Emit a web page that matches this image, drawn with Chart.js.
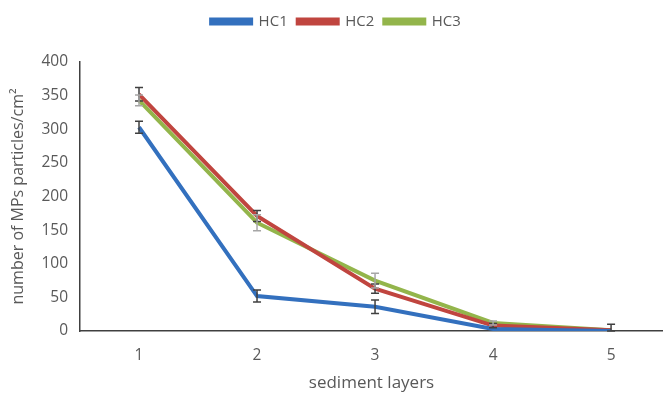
<!DOCTYPE html>
<html><head><meta charset="utf-8">
<script src="https://cdn.jsdelivr.net/npm/chart.js@4/dist/chart.umd.min.js"></script>
<style>html,body{margin:0;padding:0;background:#fff}#wrap{width:663px;height:393px}</style>
</head><body><div id="wrap"><canvas id="c"></canvas></div>
<script>
const layers = [1, 2, 3, 4, 5];
const hc1 = [303, 52, 36, 3, 0];
const hc2 = [352, 171, 63, 8, 1];
const hc3 = [343, 161, 75, 12, 1];
const hc1Err = [9, 9, 10, 0, 0];
const hc2Err = [10, 8, 7, 3, 9];
const hc3Err = [8, 12, 11, 3, 0];
const yTicks = [0, 50, 100, 150, 200, 250, 300, 350, 400];

const series = [
  {label: 'HC1', vals: hc1, err: hc1Err, color: '#3370BE', errColor: '#404040'},
  {label: 'HC2', vals: hc2, err: hc2Err, color: '#C0453F', errColor: '#404040'},
  {label: 'HC3', vals: hc3, err: hc3Err, color: '#93B54B', errColor: '#A6A6A6'}
];

const errorBars = {
  id: 'errorBars',
  afterDatasetsDraw(chart) {
    const {ctx, scales: {x, y}} = chart;
    ctx.save();
    chart.data.datasets.forEach((ds, di) => {
      const s = series[di];
      ctx.strokeStyle = s.errColor;
      ctx.lineWidth = 1.5;
      ds.data.forEach((p, i) => {
        const e = s.err[i];
        if (!e) return;
        const px = x.getPixelForValue(p.x);
        const top = y.getPixelForValue(p.y + e);
        const bot = y.getPixelForValue(Math.max(0, p.y - e));
        ctx.beginPath();
        ctx.moveTo(px, top); ctx.lineTo(px, bot);
        ctx.moveTo(px - 4, top); ctx.lineTo(px + 4, top);
        ctx.moveTo(px - 4, bot); ctx.lineTo(px + 4, bot);
        ctx.stroke();
      });
    });
    ctx.restore();
  }
};

const legendSpace = {
  id: 'legendSpace',
  beforeInit(chart) {
    const orig = chart.legend.fit;
    chart.legend.fit = function () { orig.bind(chart.legend)(); this.height += 23; };
  }
};

new Chart(document.getElementById('c'), {
  type: 'line',
  data: {
    datasets: series.map(s => ({
      label: s.label,
      data: s.vals.map((v, i) => ({x: layers[i], y: v})),
      borderColor: s.color,
      backgroundColor: s.color,
      borderWidth: 4,
      pointRadius: 0,
      tension: 0
    }))
  },
  options: {
    responsive: true,
    maintainAspectRatio: false,
    animation: false,
    layout: {padding: {left: 9, right: 0, top: 4, bottom: 0}},
    plugins: {
      legend: {
        position: 'top',
        labels: {
          boxWidth: 40, boxHeight: 4, padding: 10,
          color: '#595959',
          font: {family: 'Open Sans', size: 15}
        }
      },
      tooltip: {enabled: false}
    },
    scales: {
      x: {
        type: 'linear',
        min: 0.5, max: 5.44,
        afterBuildTicks: (axis) => { axis.ticks = layers.map(v => ({value: v})); },
        afterFit: (axis) => { axis.height = 62; },
        ticks: {color: '#595959', font: {family: 'Open Sans', size: 15.5}, padding: 15},
        grid: {display: false, drawTicks: false},
        border: {color: '#404040', width: 1.5},
        title: {display: true, text: 'sediment layers', color: '#595959', font: {family: 'Open Sans', size: 17}, padding: {top: 0, bottom: 0}}
      },
      y: {
        min: 0, max: 400,
        afterBuildTicks: (axis) => { axis.ticks = yTicks.map(v => ({value: v})); },
        afterFit: (axis) => { axis.width = 71; },
        ticks: {color: '#595959', font: {family: 'Open Sans', size: 15.5}, padding: 12},
        grid: {display: false, drawTicks: false},
        border: {color: '#404040', width: 1.5},
        title: {display: true, text: 'number of MPs particles/cm²', color: '#595959', font: {family: 'Open Sans', size: 16}, padding: {top: 0, bottom: 0}}
      }
    }
  },
  plugins: [errorBars, legendSpace]
});
</script></body></html>
